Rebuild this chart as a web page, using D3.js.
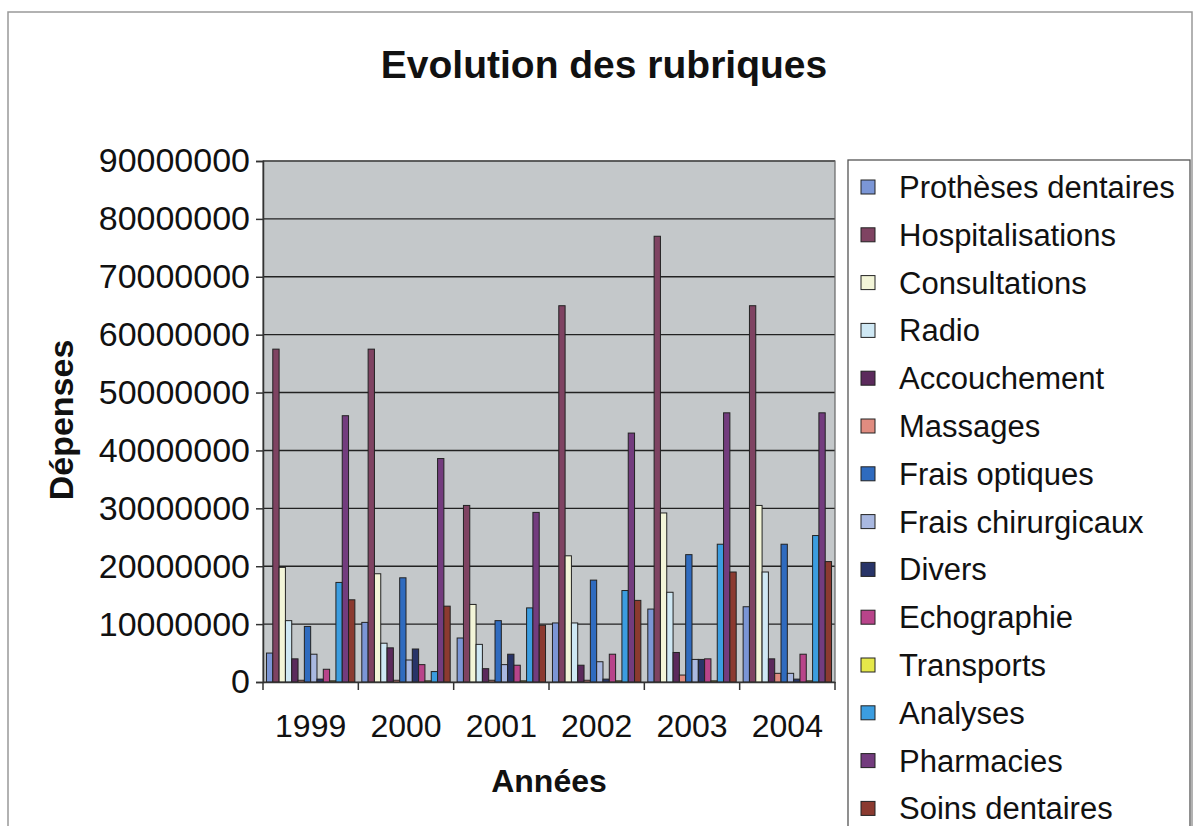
<!DOCTYPE html>
<html><head><meta charset="utf-8">
<script src="https://cdn.jsdelivr.net/npm/d3@7"></script>
<style>body{margin:0;background:#fff;} svg{display:block;} text{font-family:"Liberation Sans",Arial,sans-serif;fill:#111;}</style>
</head><body>
<svg id="c" width="1201" height="826"></svg>
<script>
const years = ["1999","2000","2001","2002","2003","2004"];
const series = ["Prothèses dentaires","Hospitalisations","Consultations","Radio","Accouchement","Massages","Frais optiques","Frais chirurgicaux","Divers","Echographie","Transports","Analyses","Pharmacies","Soins dentaires"];
const colors = ["#7b96d6","#7f4362","#f3f5d8","#cfe8f4","#5b2a5c","#e08c80","#2f6bbf","#a9b8e0","#283468","#b8448a","#e5e84a","#3b9de0","#733c7e","#8b3a30"];
// values per series, one per year (1999..2004)
const protheses      = [5000000, 10300000, 7600000, 10200000, 12600000, 13000000];
const hospitalisations=[57500000,57500000,30500000,65000000,77000000,65000000];
const consultations  = [19800000,18700000,13400000,21800000,29200000,30500000];
const radio          = [10600000,6700000,6500000,10200000,15500000,19000000];
const accouchement   = [4000000,5900000,2300000,2900000,5100000,4000000];
const massages       = [300000,300000,300000,300000,1200000,1500000];
const fraisOptiques  = [9600000,18000000,10600000,17600000,22000000,23800000];
const fraisChir      = [4800000,3800000,3000000,3500000,3900000,1500000];
const divers         = [500000,5700000,4800000,500000,3900000,500000];
const echographie    = [2200000,3000000,2900000,4800000,4000000,4800000];
const transports     = [200000,200000,200000,200000,200000,200000];
const analyses       = [17200000,1800000,12800000,15800000,23800000,25300000];
const pharmacies     = [46000000,38600000,29300000,43000000,46500000,46500000];
const soinsDentaires = [14200000,13100000,9800000,14100000,19000000,20800000];
const yTicks = [0,10000000,20000000,30000000,40000000,50000000,60000000,70000000,80000000,90000000];

const allValues = [protheses,hospitalisations,consultations,radio,accouchement,massages,fraisOptiques,fraisChir,divers,echographie,transports,analyses,pharmacies,soinsDentaires];

const svg = d3.select("#c");
const L=263,R=835,T=161,B=682;

svg.append("rect").attr("x",8).attr("y",12).attr("width",1184).attr("height",830).attr("fill","#fff").attr("stroke","#999").attr("stroke-width",1.5);

const x0 = d3.scaleBand().domain(years).range([L,R]).padding(0);
const x1 = d3.scaleBand().domain(series).range([0,x0.bandwidth()]).paddingInner(0).paddingOuter(0.55);
const y = d3.scaleLinear().domain([0,90000000]).range([B,T]);

svg.append("rect").attr("x",L).attr("y",T).attr("width",R-L).attr("height",B-T).attr("fill","#c4c8ca");

svg.append("g").selectAll("line").data(yTicks.slice(1)).join("line")
  .attr("x1",L).attr("x2",R).attr("y1",d=>y(d)).attr("y2",d=>y(d))
  .attr("stroke","#222").attr("stroke-width",1.4);

svg.append("rect").attr("x",L).attr("y",T).attr("width",R-L).attr("height",B-T).attr("fill","none").attr("stroke","#666").attr("stroke-width",1.2);

const g = svg.append("g");
years.forEach((yr,yi)=>{
  series.forEach((s,si)=>{
    const v = allValues[si][yi];
    g.append("rect")
      .attr("x",x0(yr)+x1(s)).attr("width",x1.bandwidth())
      .attr("y",y(v)).attr("height",B-y(v))
      .attr("fill",colors[si]).attr("stroke","#222").attr("stroke-width",1);
  });
});

// axes
const ya = d3.axisLeft(y).tickValues(yTicks).tickFormat(d=>String(d)).tickSize(7).tickPadding(6);
const yg = svg.append("g").attr("transform",`translate(${L},0)`).call(ya);
yg.select(".domain").attr("stroke","#333").attr("stroke-width",1.5);
yg.selectAll(".tick line").attr("stroke","#333").attr("stroke-width",1.5);
yg.selectAll("text").attr("font-size",34).attr("fill","#111").style("font-family","Liberation Sans, Arial, sans-serif");

const xa = d3.axisBottom(x0).tickSize(0).tickPadding(32);
const xg = svg.append("g").attr("transform",`translate(0,${B})`).call(xa);
xg.select(".domain").attr("stroke","#333").attr("stroke-width",1.5);
xg.selectAll("text").attr("font-size",32).attr("fill","#111").style("font-family","Liberation Sans, Arial, sans-serif");
// category separator ticks
const bounds = years.map(d=>x0(d)).concat([R]);
svg.append("g").selectAll("line").data(bounds).join("line")
  .attr("x1",d=>d).attr("x2",d=>d).attr("y1",B).attr("y2",B+8).attr("stroke","#333").attr("stroke-width",1.5);

// titles
svg.append("text").attr("x",604).attr("y",78).attr("text-anchor","middle").attr("font-size",39).attr("font-weight","bold").text("Evolution des rubriques");
svg.append("text").attr("x",(L+R)/2).attr("y",792).attr("text-anchor","middle").attr("font-size",32).attr("font-weight","bold").text("Années");
svg.append("text").attr("transform",`translate(73,420) rotate(-90)`).attr("text-anchor","middle").attr("font-size",34).attr("font-weight","bold").text("Dépenses");

// legend
svg.append("rect").attr("x",848).attr("y",160).attr("width",342).attr("height",700).attr("fill","#fff").attr("stroke","#555").attr("stroke-width",1.3);
const lg = svg.append("g");
series.forEach((s,i)=>{
  const cy = 187 + i*47.8;
  lg.append("rect").attr("x",861).attr("y",cy-7).attr("width",14).attr("height",14).attr("fill",colors[i]).attr("stroke","#222").attr("stroke-width",1);
  lg.append("text").attr("x",899).attr("y",cy+11).attr("font-size",31).text(s);
});
</script>
</body></html>
